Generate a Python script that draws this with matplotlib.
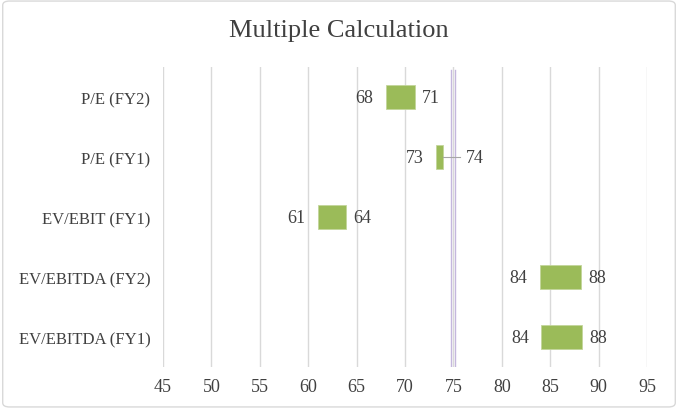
import matplotlib.pyplot as plt
from matplotlib.patches import FancyBboxPatch

categories = ["EV/EBITDA (FY1)", "EV/EBITDA (FY2)", "EV/EBIT (FY1)", "P/E (FY1)", "P/E (FY2)"]
lows = [84.1, 83.9, 61.0, 73.2, 68.0]
highs = [88.3, 88.2, 63.9, 73.9, 71.0]
ref_value = 75.0
xticks = [45, 50, 55, 60, 65, 70, 75, 80, 85, 90, 95]

plt.rcParams['font.family'] = ['Liberation Serif', 'DejaVu Serif']
txt = '#404040'

fig = plt.figure(figsize=(6.78, 4.10), dpi=100)
ax = fig.add_axes([0.2404, 0.1024, 0.7139, 0.7317])

ypos = list(range(len(categories)))
widths = [h - l for l, h in zip(lows, highs)]
ax.barh(ypos, widths, left=lows, height=0.4, color='#9bbb59', edgecolor='#c3d69b',
        linewidth=0.6, zorder=3)

# reference line (double purple)
for dx in (-0.2, 0.2):
    ax.axvline(ref_value + dx, ymin=0.0, ymax=0.99, color='#c4b7dd', lw=1.0, zorder=2)

for y, lo, hi in zip(ypos, lows, highs):
    ax.annotate(f"{lo:.0f}", (lo, y), xytext=(-9, 0), textcoords='offset points',
                ha='right', va='center', fontsize=13, color=txt)
    if hi - lo < 1.5:
        # leader line to the label
        ax.plot([hi, hi + 1.8], [y, y], color='#a6a6a6', lw=0.8, zorder=4)
        ax.annotate(f"{hi:.0f}", (hi + 1.8, y), xytext=(4, 0), textcoords='offset points',
                    ha='left', va='center', fontsize=13, color=txt)
    else:
        ax.annotate(f"{hi:.0f}", (hi, y), xytext=(5, 0), textcoords='offset points',
                    ha='left', va='center', fontsize=13, color=txt)

ax.set_xlim(45, 95)
ax.set_ylim(-0.5, len(categories) - 0.5)
ax.set_xticks(xticks)
ax.set_yticks(ypos)
ax.set_yticklabels(categories, fontsize=12, color=txt)
ax.tick_params(axis='x', labelsize=13, colors=txt, length=0, pad=8)
ax.tick_params(axis='y', length=0, pad=9)
ax.grid(axis='x', color='#d9d9d9', lw=1, zorder=0)
for s in ax.spines.values():
    s.set_visible(False)

fig.text(0.5, 0.925, "Multiple Calculation", ha='center', va='center',
         fontsize=19, color=txt)

border = FancyBboxPatch((0.004, 0.005), 0.992, 0.99, boxstyle="round,pad=0,rounding_size=0.01",
                        transform=fig.transFigure, fill=False, edgecolor='#d9d9d9', lw=1)
fig.patches.append(border)

fig.savefig("out.png", dpi=100)
